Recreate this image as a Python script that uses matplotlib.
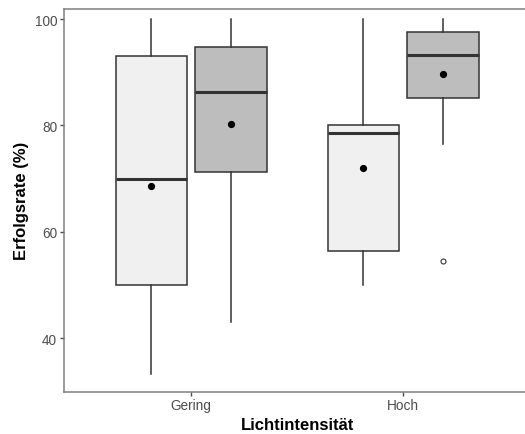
import numpy as np
import matplotlib.pyplot as plt

# Werte
groups = ["Gering", "Hoch"]
levels = ["niedrig", "hoch"]
whislo = [[33.3, 43.0], [50.0, 76.5]]
q1 = [[50.0, 71.3], [56.3, 85.1]]
med = [[69.85, 86.2], [78.6, 93.3]]
q3 = [[93.1, 94.8], [80.0, 97.5]]
whishi = [[100.0, 100.0], [100.0, 100.0]]
means = [[68.6, 80.2], [72.0, 89.7]]
fliers = [[[], []], [[], [54.5]]]

fills = ["#F0F0F0", "#BDBDBD"]
edge = "#333333"

plt.rcParams['font.family'] = ['Liberation Sans', 'DejaVu Sans']

fig = plt.figure(figsize=(5.25, 4.35), dpi=100)
ax = fig.add_axes([64 / 525, (435 - 392.5) / 435, 466.4 / 525, 382.8 / 435])

offsets = [-0.1875, 0.1875]
for gi, g in enumerate(groups):
    for li in range(len(levels)):
        stats = [dict(whislo=whislo[gi][li], q1=q1[gi][li], med=med[gi][li],
                      q3=q3[gi][li], whishi=whishi[gi][li], mean=means[gi][li],
                      fliers=fliers[gi][li])]
        pos = gi + 1 + offsets[li]
        ax.bxp(stats, positions=[pos], widths=0.3375, patch_artist=True,
               showcaps=False, showmeans=True,
               boxprops=dict(facecolor=fills[li], edgecolor=edge, linewidth=1.1),
               whiskerprops=dict(color=edge, linewidth=1.1),
               medianprops=dict(color=edge, linewidth=2.2),
               meanprops=dict(marker='o', markerfacecolor='black',
                              markeredgecolor='black', markersize=4.2),
               flierprops=dict(marker='o', markerfacecolor='white',
                               markeredgecolor=edge, markersize=3.6,
                               markeredgewidth=0.8))

ax.set_xlim(0.4, 2.6)
ax.set_ylim(29.95, 101.95)
ax.set_xticks([1, 2])
ax.set_xticklabels(groups)
ax.set_yticks([40, 60, 80, 100])

for side in ['top', 'left', 'bottom']:
    ax.spines[side].set_color('#7F7F7F')
    ax.spines[side].set_linewidth(1.1)
ax.spines['right'].set_visible(False)

ax.tick_params(axis='both', colors='#4D4D4D', length=3, width=1.0,
               labelsize=9.8, labelcolor='#4D4D4D', pad=2)

ax.set_xlabel("Lichtintensität", fontsize=12, fontweight='bold', labelpad=3)
ax.set_ylabel("Erfolgsrate (%)", fontsize=12, fontweight='bold', labelpad=4)

fig.savefig("out.png", dpi=100)
